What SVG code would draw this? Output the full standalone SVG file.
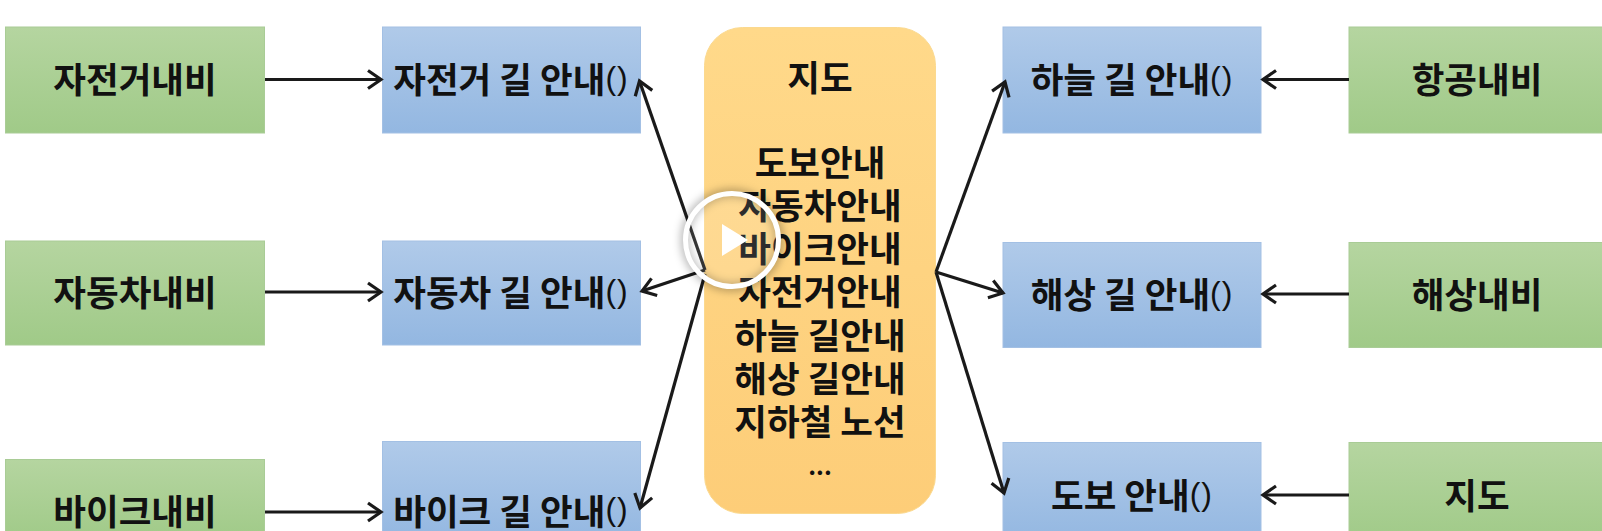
<svg xmlns="http://www.w3.org/2000/svg" width="1602" height="531" viewBox="0 0 1602 531">
<style>
text{font-family:"Noto Sans CJK KR","Noto Sans",sans-serif;font-weight:700;font-size:35.500px;fill:#111;text-anchor:middle;dominant-baseline:central}
.p{font-family:"Liberation Sans",sans-serif;font-weight:400;font-size:32px;letter-spacing:1px}
.c{fill:none;stroke:#1a1a1a;stroke-width:3.200;marker-end:url(#a)}
.g{fill:url(#gg);stroke:#a9cc96;stroke-width:1}
.b{fill:url(#gb);stroke:#a3c0e4;stroke-width:1}
</style>
<defs>
<linearGradient id="gg" x1="0" y1="0" x2="0" y2="1"><stop offset="0" stop-color="#b5d5a0"/><stop offset="1" stop-color="#a0ca88"/></linearGradient>
<linearGradient id="gb" x1="0" y1="0" x2="0" y2="1"><stop offset="0" stop-color="#b0cae9"/><stop offset="1" stop-color="#93b7e1"/></linearGradient>
<linearGradient id="go" x1="0" y1="0" x2="0" y2="1"><stop offset="0" stop-color="#ffd98a"/><stop offset="1" stop-color="#fdcd78"/></linearGradient>
<marker id="a" markerUnits="userSpaceOnUse" markerWidth="20" markerHeight="24" refX="15" refY="10" orient="auto" viewBox="0 0 20 20"><path d="M2 1L15 10L2 19" fill="none" stroke="#1a1a1a" stroke-width="3.200"/></marker>
<filter id="s" x="-20%" y="-20%" width="140%" height="140%"><feGaussianBlur stdDeviation="4"/></filter>
</defs>
<rect width="1602" height="531" fill="#fff"/>
<g id="nav-bicycle"><rect class="g" x="5.500" y="27" width="259" height="106"/><text x="135" y="77.500">자전거내비</text></g>
<g id="nav-car"><rect class="g" x="5.500" y="241" width="259" height="104"/><text x="135" y="290.500">자동차내비</text></g>
<g id="nav-bike"><rect class="g" x="5.500" y="459.500" width="259" height="80"/><text x="135" y="509">바이크내비</text></g>
<g id="guide-bicycle"><rect class="b" x="382.500" y="27" width="258" height="106"/><text x="511" y="77.500">자전거 길 안내<tspan class="p">()</tspan></text></g>
<g id="guide-car"><rect class="b" x="382.500" y="241" width="258" height="104"/><text x="511" y="290.500">자동차 길 안내<tspan class="p">()</tspan></text></g>
<g id="guide-bike"><rect class="b" x="382.500" y="441.500" width="258" height="100"/><text x="511" y="509">바이크 길 안내<tspan class="p">()</tspan></text></g>
<g id="map"><rect x="704.500" y="27.500" width="231" height="486" rx="38" fill="url(#go)" stroke="#fbd98f"/>
<text x="820" y="75">지도</text><text x="820" y="160">도보안내</text><text x="820" y="203">자동차안내</text><text x="820" y="246">바이크안내</text><text x="820" y="289.500">자전거안내</text><text x="820" y="333">하늘 길안내</text><text x="820" y="376">해상 길안내</text><text x="820" y="419">지하철 노선</text><text x="820" y="464" style="font-size:24px">...</text></g>
<g id="guide-sky"><rect class="b" x="1003" y="27" width="258" height="106"/><text x="1132" y="77.500">하늘 길 안내<tspan class="p">()</tspan></text></g>
<g id="guide-sea"><rect class="b" x="1003" y="242.500" width="258" height="105"/><text x="1132" y="292.500">해상 길 안내<tspan class="p">()</tspan></text></g>
<g id="guide-walk"><rect class="b" x="1003" y="442.500" width="258" height="100"/><text x="1132" y="493.500">도보 안내<tspan class="p">()</tspan></text></g>
<g id="nav-air"><rect class="g" x="1349" y="27" width="260" height="106"/><text x="1477" y="77.500">항공내비</text></g>
<g id="nav-sea"><rect class="g" x="1349" y="242.500" width="260" height="105"/><text x="1477" y="292.500">해상내비</text></g>
<g id="nav-map"><rect class="g" x="1349" y="442.500" width="260" height="100"/><text x="1477" y="493.500">지도</text></g>
<g id="connectors">
<path class="c" d="M265 79.500H381"/><path class="c" d="M265 292H381"/><path class="c" d="M265 512H381"/>
<path class="c" d="M705 270L639.500 81"/><path class="c" d="M705 270L642 291"/><path class="c" d="M705 274L640 508"/>
<path class="c" d="M936 272L1005 82"/><path class="c" d="M936 272L1003 293"/><path class="c" d="M936 272L1004 493"/>
<path class="c" d="M1349 79.500H1263"/><path class="c" d="M1349 294H1263"/><path class="c" d="M1349 495H1263"/>
</g>
<g id="play"><circle cx="732" cy="240" r="47" fill="none" stroke="#000" stroke-opacity=".3" stroke-width="8" filter="url(#s)"/><circle cx="732" cy="240" r="46.500" fill="#fff" fill-opacity=".12" stroke="#fff" stroke-width="5"/><path d="M722 224L748 240L722 256Z" fill="#fff"/></g>
</svg>
